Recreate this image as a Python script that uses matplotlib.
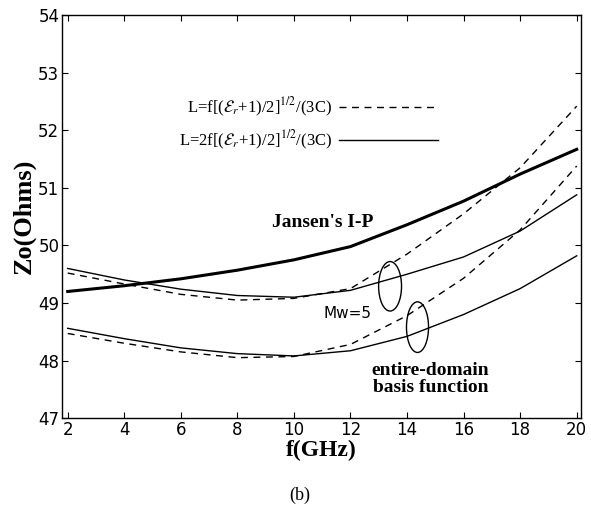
import numpy as np
import matplotlib
matplotlib.use("Agg")
import matplotlib.pyplot as plt
from matplotlib.patches import Ellipse

# data (GHz vs Ohms)
freq = [2, 4, 6, 8, 10, 12, 14, 16, 18, 20]
jansen = [49.2, 49.3, 49.42, 49.57, 49.75, 49.98, 50.36, 50.77, 51.24, 51.67]
upper_solid = [49.6, 49.4, 49.24, 49.13, 49.1, 49.22, 49.5, 49.8, 50.25, 50.88]
upper_dashed = [49.52, 49.33, 49.15, 49.05, 49.08, 49.25, 49.85, 50.55, 51.35, 52.42]
lower_solid = [48.56, 48.38, 48.22, 48.12, 48.08, 48.17, 48.42, 48.8, 49.25, 49.82]
lower_dashed = [48.47, 48.3, 48.15, 48.05, 48.07, 48.28, 48.78, 49.43, 50.27, 51.38]

xticks = [2, 4, 6, 8, 10, 12, 14, 16, 18, 20]
yticks = [47, 48, 49, 50, 51, 52, 53, 54]

plt.rcParams['mathtext.fontset'] = 'stix'
serif = 'Liberation Serif'

fig = plt.figure(figsize=(5.91, 5.08), dpi=100)
ax = fig.add_axes([0.105, 0.177, 0.878, 0.793])

ax.plot(freq, jansen, color='black', lw=2.2)
ax.plot(freq, upper_solid, color='black', lw=1.0)
ax.plot(freq, lower_solid, color='black', lw=1.0)
ax.plot(freq, upper_dashed, color='black', lw=1.0, ls=(0, (5, 4)))
ax.plot(freq, lower_dashed, color='black', lw=1.0, ls=(0, (5, 4)))

ax.set_xlim(1.8, 20.15)
ax.set_ylim(47, 54)
ax.set_xticks(xticks)
ax.set_yticks(yticks)
ax.tick_params(direction='in', length=4, top=True, right=True, labelsize=12, pad=2)
for s in ax.spines.values():
    s.set_linewidth(1.0)

ax.set_xlabel('f(GHz)', fontsize=17, fontweight='bold', family=serif, labelpad=1)
ax.set_ylabel('Zo(Ohms)', fontsize=19, fontweight='bold', family=serif, labelpad=2)

# legend-like labels drawn inside the axes
ax.text(11.35, 52.4, r'L=f[($\mathcal{E}_r$+1)/2]$^{1/2}$/(3C)', ha='right', va='center',
        fontsize=12, family=serif)
ax.plot([11.58, 14.94], [52.4, 52.4], color='black', lw=1.0, ls=(0, (5, 4)))
ax.text(11.35, 51.83, r'L=2f[($\mathcal{E}_r$+1)/2]$^{1/2}$/(3C)', ha='right', va='center',
        fontsize=12, family=serif)
ax.plot([11.58, 15.1], [51.83, 51.83], color='black', lw=1.0)

ax.text(11.0, 50.39, "Jansen's I-P", ha='center', va='center', fontsize=14,
        fontweight='bold', family=serif)
ax.text(11.9, 48.82, 'Mw=5', ha='center', va='center', fontsize=11)
ax.text(14.83, 47.68, 'entire-domain\nbasis function', ha='center', va='center',
        fontsize=14, fontweight='bold', family=serif, linespacing=0.95)

ax.add_patch(Ellipse((13.4, 49.29), 0.81, 0.86, fill=False, color='black', lw=1.0))
ax.add_patch(Ellipse((14.37, 48.58), 0.78, 0.88, fill=False, color='black', lw=1.0))

fig.text(300 / 591, 1 - 495 / 508, '(b)', ha='center', va='center', fontsize=13, family=serif)

fig.savefig('out.png', dpi=100)
